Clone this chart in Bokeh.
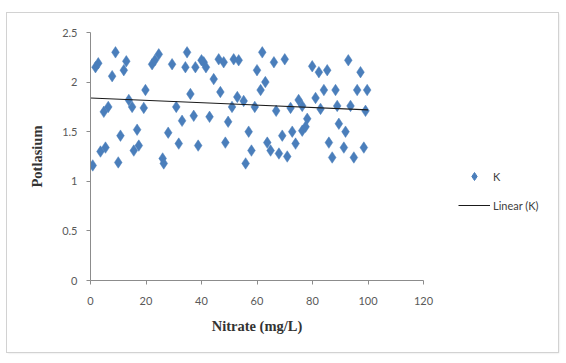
from bokeh.plotting import figure
from bokeh.layouts import row
from bokeh.models import (Range1d, FixedTicker, NumeralTickFormatter, Legend, LegendItem,
                          ColumnDataSource, InlineStyleSheet)
from bokeh.embed import file_html
from bokeh.resources import INLINE

# ---- data ----
nitrate = [0.8, 1.8, 2.8, 3.6, 4.8, 5.4, 6.4, 7.8, 9.0, 10.0, 10.8, 12.0, 12.9, 13.8, 15.0,
           15.6, 16.8, 17.4, 19.2, 19.8, 22.2, 23.2, 24.6, 26.0, 26.4, 28.0, 29.4, 30.9, 31.8,
           33.0, 34.2, 34.8, 36.0, 37.2, 37.8, 38.8, 40.0, 40.8, 41.6, 42.9, 44.4, 46.2, 46.8,
           48.0, 48.6, 49.6, 51.0, 51.6, 52.9, 53.4, 55.2, 55.9, 57.0, 58.0, 59.2, 60.0, 61.3,
           61.9, 63.0, 63.7, 64.9, 66.1, 66.9, 67.9, 69.1, 70.0, 70.9, 72.1, 72.7, 73.9, 75.0,
           76.3, 76.3, 77.5, 78.1, 79.9, 81.1, 82.3, 82.9, 84.1, 85.3, 85.9, 87.1, 88.3, 88.9,
           89.5, 91.3, 91.9, 92.9, 93.7, 94.9, 96.1, 97.3, 98.5, 99.1, 99.7]
potassium = [1.16, 2.15, 2.19, 1.30, 1.70, 1.34, 1.75, 2.06, 2.30, 1.19, 1.46, 2.12, 2.21, 1.82, 1.75,
             1.31, 1.52, 1.36, 1.74, 1.92, 2.18, 2.22, 2.28, 1.23, 1.18, 1.49, 2.18, 1.75, 1.38,
             1.61, 2.15, 2.30, 1.88, 1.66, 2.15, 1.36, 2.22, 2.20, 2.15, 1.65, 2.03, 2.23, 1.90,
             2.20, 1.39, 1.60, 1.75, 2.23, 1.85, 2.22, 1.81, 1.18, 1.50, 1.31, 1.75, 2.12, 1.92,
             2.30, 2.00, 1.39, 1.31, 2.20, 1.71, 1.28, 1.46, 2.23, 1.25, 1.74, 1.50, 1.38, 1.82,
             1.76, 1.51, 1.55, 1.63, 2.16, 1.84, 2.10, 1.73, 1.92, 2.12, 1.39, 1.24, 1.92, 1.76,
             1.58, 1.34, 1.50, 2.22, 1.76, 1.24, 1.92, 2.10, 1.34, 1.71, 1.92]
trend_x = [0, 100]
trend_y = [1.84, 1.72]
x_ticks = [0, 20, 40, 60, 80, 100, 120]
y_ticks = [0, 0.5, 1, 1.5, 2, 2.5]
series_name = "K"
trend_name = "Linear (K)"
x_title = "Nitrate (mg/L)"
y_title = "Potlasium"

PT_COLOR = "#4A7EBB"
LINE_COLOR = "#1a1a1a"

# chart box placed at (7, 13), size 551 x 339; plot frame spans x 90..423, y 32..280
BX, BY, BW, BH = 7, 13, 551, 339
FL, FR, FT, FB = 90, 423, 32, 280
SPLIT = 443   # page x where the legend area starts

p = figure(width=SPLIT - BX, height=BH, output_backend="svg", toolbar_location=None,
           x_range=Range1d(0, 120), y_range=Range1d(0, 2.5),
           min_border_left=FL - BX, min_border_right=SPLIT - FR,
           min_border_top=FT - BY, min_border_bottom=BY + BH - FB)
p.outline_line_color = None
p.xgrid.visible = False
p.ygrid.visible = False
p.background_fill_color = "white"
p.border_fill_color = "white"

src = ColumnDataSource(dict(x=nitrate, y=potassium))
p.scatter("x", "y", source=src, marker="diamond", size=11.5,
          fill_color=PT_COLOR, line_color=PT_COLOR, line_width=0.5)
p.line(trend_x, trend_y, line_color=LINE_COLOR, line_width=1.1)

for ax in (p.xaxis[0], p.yaxis[0]):
    ax.axis_line_color = "#8c8c8c"
    ax.major_tick_line_color = "#8c8c8c"
    ax.major_tick_out = 4
    ax.major_tick_in = 0
    ax.minor_tick_line_color = None
    ax.major_label_text_font = "Lato"
    ax.major_label_text_font_size = "11px"
    ax.major_label_text_color = "#595959"
    ax.axis_label_text_font = "Liberation Serif"
    ax.axis_label_text_font_style = "bold"
    ax.axis_label_text_font_size = "14.5px"
    ax.axis_label_text_color = "#333333"

p.xaxis.ticker = FixedTicker(ticks=x_ticks)
p.yaxis.ticker = FixedTicker(ticks=y_ticks)
p.yaxis.formatter = NumeralTickFormatter(format="0.[0]")
p.xaxis.major_label_standoff = 12
p.yaxis.major_label_standoff = 9
p.xaxis.axis_label = x_title
p.yaxis.axis_label = y_title
p.xaxis.axis_label_standoff = 10
p.yaxis.axis_label_standoff = 14

# legend area (separate figure, no axes)
q = figure(width=BX + BW - SPLIT, height=BH, output_backend="svg", toolbar_location=None,
           x_range=Range1d(0, 1), y_range=Range1d(0, 1), x_axis_type=None, y_axis_type=None,
           min_border=0)
q.outline_line_color = None
q.xgrid.visible = False
q.ygrid.visible = False
q.background_fill_color = "white"
q.border_fill_color = "white"
# legend-only renderers, placed outside the visible range
lg_pts = q.scatter(x=[5], y=[5], marker="diamond", size=10,
                   fill_color=PT_COLOR, line_color=PT_COLOR)
lg_line = q.line(x=[5, 6], y=[5, 5], line_color=LINE_COLOR, line_width=1.1)

legend = Legend(items=[LegendItem(label=series_name, renderers=[lg_pts]),
                       LegendItem(label=trend_name, renderers=[lg_line])],
                location=(458 - SPLIT, FB - 215), border_line_color=None,
                background_fill_alpha=0, padding=0, margin=0, glyph_width=32,
                glyph_height=20, label_height=20, spacing=9, label_standoff=3,
                label_text_font="Lato", label_text_font_size="11px",
                label_text_color="#404040")
q.add_layout(legend, "center")

layout = row(p, q, margin=(BY, 0, 0, BX), spacing=0)
layout.stylesheets = [InlineStyleSheet(
    css=":host { outline: 1px solid #d2d2d2; box-shadow: 1px 1px 2px #dcdcdc; }")]

open("out.html", "w").write(file_html(layout, INLINE))
